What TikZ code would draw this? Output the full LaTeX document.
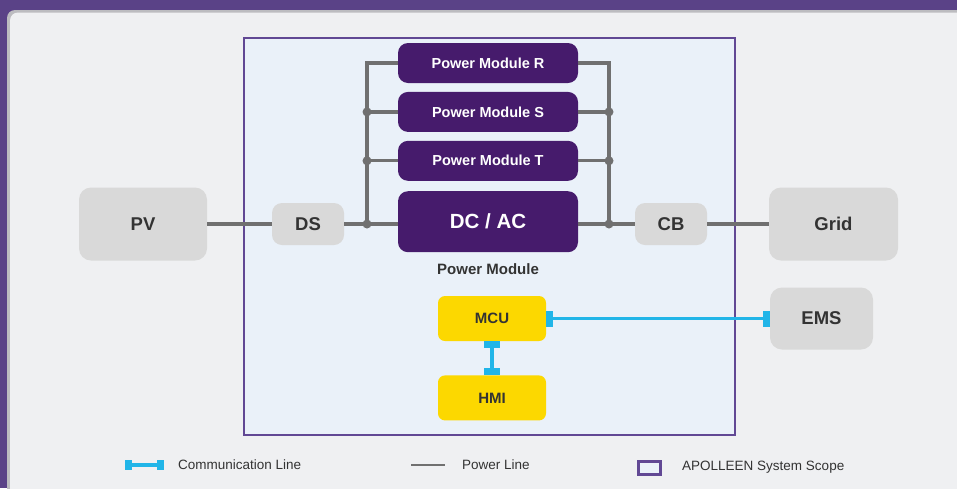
\documentclass[tikz,border=0pt]{standalone}
\usepackage{fontspec}
\setmainfont{Liberation Sans}
\usepackage{xcolor}
\usepackage{tikz}
\usetikzlibrary{
  arrows.meta,
  calc,
  positioning
}
\definecolor{framepurple}{RGB}{90,66,135}
\definecolor{panelgray}{RGB}{239,240,242}
\definecolor{shadowgray}{RGB}{188,188,192}
\definecolor{scopefill}{RGB}{234,241,249}
\definecolor{scopeline}{RGB}{97,72,148}
\definecolor{moduleviolet}{RGB}{70,27,108}
\definecolor{boxgray}{RGB}{217,217,217}
\definecolor{textgray}{RGB}{51,51,51}
\definecolor{linegray}{RGB}{112,112,112}
\definecolor{commblue}{RGB}{33,181,232}
\definecolor{ctrlyellow}{RGB}{252,216,0}

\begin{document}
\begin{tikzpicture}[
  x=1pt, y=-1pt,
  block/.style={rounded corners=10pt, inner sep=0pt, align=center},
  module/.style={block, fill=moduleviolet, text=white, minimum width=180pt,
                 minimum height=40pt, font=\bfseries\fontsize{14.5}{16}\selectfont},
  device/.style={block, fill=boxgray, text=textgray,
                 font=\bfseries\fontsize{18.5}{20}\selectfont},
  ctrl/.style={block, rounded corners=7pt, fill=ctrlyellow, text=textgray,
               minimum width=108pt, minimum height=45pt,
               font=\bfseries\fontsize{15}{17}\selectfont},
  pwr/.style={draw=linegray, line width=3.3pt},
  comm/.style={draw=commblue, line width=3.5pt,
               {Rectangle[length=7pt,width=16pt]}-{Rectangle[length=7pt,width=16pt]}},
  legend/.style={anchor=west, inner sep=0pt, text=textgray,
                 font=\fontsize{13.5}{15}\selectfont}
]
\useasboundingbox (0,0) rectangle (957,488);

% Frame and panel
\fill[framepurple] (0,0) rectangle (957,488);
\fill[shadowgray, rounded corners=8pt] (7,10) rectangle (975,505);
\fill[panelgray, rounded corners=8pt] (10,12.5) rectangle (975,505);

% System scope
\draw[scopeline, line width=2pt, fill=scopefill] (244,38) rectangle (735,435);

% Power modules
\node[module] (pm_r) at (488,63) {Power Module R};
\node[module, below=8.5pt of pm_r] (pm_s) {Power Module S};
\node[module, below=8.5pt of pm_s] (pm_t) {Power Module T};
\node[module, minimum height=61pt, font=\bfseries\fontsize{20.5}{22}\selectfont,
      below=10pt of pm_t] (dcac) {DC / AC};
\node[inner sep=0pt, text=textgray, font=\bfseries\fontsize{15}{17}\selectfont,
      below=11pt of dcac] (pm_label) {Power Module};

% Devices
\node[device, minimum width=128pt, minimum height=73pt, rounded corners=12pt] (pv) at (143,224) {PV};
\node[device, minimum width=72pt, minimum height=42pt] (ds) at (308,224) {DS};
\node[device, minimum width=72pt, minimum height=42pt] (cb) at (671,224) {CB};
\node[device, minimum width=129pt, minimum height=73pt, rounded corners=12pt] (grid) at (833.5,224) {Grid};
\node[device, minimum width=103pt, minimum height=62pt, rounded corners=12pt] (ems) at (821.5,318.5) {EMS};

% Power lines
\coordinate (bus_l) at (367,224);
\coordinate (bus_r) at (609,224);
\draw[pwr] (pv) -- (ds);
\draw[pwr] (ds) -- (bus_l) -- (dcac.west |- bus_l);
\draw[pwr] (dcac.east |- bus_r) -- (bus_r) -- (cb);
\draw[pwr] (cb) -- (grid);
\draw[pwr] (pm_r.west) -| (bus_l);
\draw[pwr] (pm_r.east) -| (bus_r);
\draw[pwr] (pm_s.west) -- (pm_s.west -| bus_l);
\draw[pwr] (pm_s.east) -- (pm_s.east -| bus_r);
\draw[pwr] (pm_t.west) -- (pm_t.west -| bus_l);
\draw[pwr] (pm_t.east) -- (pm_t.east -| bus_r);
\foreach \m in {pm_s,pm_t} {
  \fill[linegray] (\m.west -| bus_l) circle (4.5);
  \fill[linegray] (\m.east -| bus_r) circle (4.5);
}
\fill[linegray] (bus_l) circle (4.5);
\fill[linegray] (bus_r) circle (4.5);

% Controller
\node[ctrl] (mcu) at (492,318.5) {MCU};
\node[ctrl, below=34pt of mcu] (hmi) {HMI};
\draw[comm] (mcu) -- (ems);
\draw[comm] (mcu) -- (hmi);

% Legend
\coordinate (leg_comm_a) at (125,465);
\coordinate (leg_comm_b) at (164,465);
\draw[comm, line width=4pt, {Rectangle[length=7pt,width=10pt]}-{Rectangle[length=7pt,width=10pt]}]
  (leg_comm_a) -- (leg_comm_b);
\node[legend] (leg_comm) at (178,465) {Communication Line};
\coordinate (leg_pwr_a) at (411,465);
\coordinate (leg_pwr_b) at (445,465);
\draw[pwr, line width=2.5pt] (leg_pwr_a) -- (leg_pwr_b);
\node[legend] (leg_pwr) at (462,465) {Power Line};
\draw[scopeline, line width=3pt, fill=scopefill] (638.5,461.5) rectangle (660.5,474.5);
\node[legend] (leg_scope) at (682,467) {APOLLEEN System Scope};

\end{tikzpicture}
\end{document}
